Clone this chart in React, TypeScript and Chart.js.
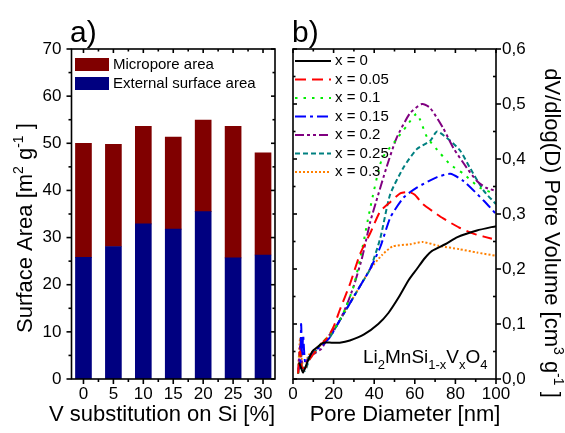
import { useEffect, useRef } from 'react';
import { Chart, registerables } from 'chart.js';
Chart.register(...registerables);

const FONT = '"Liberation Sans", Arial, sans-serif';

// ---------- Panel a data ----------
const substitution = [0, 5, 10, 15, 20, 25, 30];
const externalArea = [25.8, 28.1, 32.9, 31.8, 35.5, 25.7, 26.3];
const microporeArea = [24.2, 21.7, 20.7, 19.5, 19.4, 27.9, 21.7];
const yTicksA = [0, 10, 20, 30, 40, 50, 60, 70];
const xTicksA = [0, 5, 10, 15, 20, 25, 30];

// ---------- Panel b data ----------
const seriesLabels = ['x = 0', 'x = 0.05', 'x = 0.1', 'x = 0.15', 'x = 0.2', 'x = 0.25', 'x = 0.3'];
const d0 = [3, 4, 5, 7, 9.5, 12, 15, 19, 23, 28, 35, 42, 47, 52, 57, 61, 65, 68.5, 75, 81, 90.6, 100];
const v0 = [0.03, 0.02, 0.012, 0.03, 0.05, 0.058, 0.066, 0.066, 0.066, 0.07, 0.081, 0.1, 0.12, 0.148, 0.18, 0.2, 0.22, 0.233, 0.245, 0.258, 0.27, 0.278];
const d1 = [2.5, 3.5, 4.5, 6, 8, 10, 13, 17, 20, 23, 28, 33, 38, 43, 48, 53, 57, 60, 64, 70, 74, 82, 90, 98];
const v1 = [0.01, 0.05, 0.02, 0.02, 0.035, 0.045, 0.06, 0.075, 0.095, 0.125, 0.172, 0.227, 0.265, 0.305, 0.322, 0.338, 0.34, 0.335, 0.318, 0.302, 0.292, 0.275, 0.263, 0.255];
const d2 = [2.5, 3.5, 4.5, 6, 8, 10, 14, 18, 22, 26, 30, 34, 38, 43.8, 50.4, 56, 61, 66, 72.6, 77.5, 84, 92, 100];
const v2 = [0.01, 0.05, 0.02, 0.02, 0.04, 0.045, 0.065, 0.08, 0.1, 0.13, 0.17, 0.235, 0.31, 0.4, 0.433, 0.46, 0.482, 0.44, 0.41, 0.39, 0.373, 0.348, 0.336];
const d3 = [2.5, 3.5, 4, 4.5, 5, 6, 8, 10, 14, 18, 22, 26, 30, 34, 38, 43, 48, 54.5, 61, 71, 77.5, 84, 94, 100];
const v3 = [0.02, 0.02, 0.1, 0.04, 0.08, 0.03, 0.04, 0.05, 0.06, 0.075, 0.1, 0.125, 0.15, 0.175, 0.2, 0.24, 0.294, 0.33, 0.348, 0.367, 0.373, 0.36, 0.324, 0.3];
const d4 = [2.5, 3.5, 4.5, 6, 8, 10, 14, 18, 22, 26, 30, 34, 38, 41, 46, 51, 57.6, 63.5, 67.5, 74, 79, 85.6, 90.6, 95, 100];
const v4 = [0.01, 0.06, 0.03, 0.03, 0.04, 0.045, 0.055, 0.08, 0.1, 0.13, 0.17, 0.22, 0.285, 0.323, 0.384, 0.438, 0.483, 0.5, 0.493, 0.456, 0.42, 0.384, 0.36, 0.348, 0.342];
const d5 = [2.5, 3.5, 5, 6, 8, 10, 14, 18, 22, 26, 30, 34, 38, 43, 47.8, 54.5, 61, 67.6, 71, 77.5, 82.4, 87, 94, 100];
const v5 = [0.01, 0.03, 0.02, 0.015, 0.035, 0.045, 0.065, 0.075, 0.1, 0.125, 0.15, 0.175, 0.2, 0.256, 0.335, 0.385, 0.418, 0.433, 0.45, 0.433, 0.415, 0.385, 0.342, 0.318];
const d6 = [2.5, 3.5, 4.5, 6, 8, 10, 14, 18, 22, 26, 30, 34, 38, 44, 49, 57.6, 64, 72, 82, 90.6, 100];
const v6 = [0.01, 0.075, 0.03, 0.03, 0.045, 0.05, 0.065, 0.08, 0.1, 0.125, 0.15, 0.175, 0.2, 0.226, 0.241, 0.245, 0.249, 0.242, 0.236, 0.23, 0.224];
const xTicksB = [0, 20, 40, 60, 80, 100];
const yTicksB = [0, 0.1, 0.2, 0.3, 0.4, 0.5, 0.6];

const diameters = [d0, d1, d2, d3, d4, d5, d6];
const volumes = [v0, v1, v2, v3, v4, v5, v6];
const colors = ['#000000', '#ff0000', '#00ee00', '#0000ff', '#800080', '#008080', '#ff8000'];
const dashes: number[][] = [[], [11, 6], [2.5, 6], [11, 4, 3, 4], [9, 3, 3, 3, 3, 3], [5, 3], [2, 2]];

type Part = [string, number, number];
function drawRich(ctx: CanvasRenderingContext2D, parts: Part[], x: number, y: number, align: 'left' | 'center') {
  let total = 0;
  for (const [t, s] of parts) {
    ctx.font = `${s}px ${FONT}`;
    total += ctx.measureText(t).width;
  }
  let cx = align === 'center' ? x - total / 2 : x;
  ctx.textAlign = 'left';
  ctx.textBaseline = 'alphabetic';
  for (const [t, s, dy] of parts) {
    ctx.font = `${s}px ${FONT}`;
    ctx.fillText(t, cx, y + dy);
    cx += ctx.measureText(t).width;
  }
}

function hTicks(ctx: CanvasRenderingContext2D, scale: any, vals: number[], y: number, len: number) {
  for (const v of vals) {
    const px = scale.getPixelForValue(v);
    ctx.beginPath();
    ctx.moveTo(px, y);
    ctx.lineTo(px, y + len);
    ctx.stroke();
  }
}
function vTicks(ctx: CanvasRenderingContext2D, scale: any, vals: number[], x: number, len: number) {
  for (const v of vals) {
    const py = scale.getPixelForValue(v);
    ctx.beginPath();
    ctx.moveTo(x, py);
    ctx.lineTo(x + len, py);
    ctx.stroke();
  }
}

const range = (a: number, b: number, s: number) => {
  const r: number[] = [];
  for (let v = a; v <= b + 1e-9; v += s) r.push(+v.toFixed(4));
  return r;
};

export default function App() {
  const refA = useRef<HTMLCanvasElement>(null);
  const refB = useRef<HTMLCanvasElement>(null);

  useEffect(() => {
    const tickFont = { family: FONT, size: 17 };

    const panelAPlugin = {
      id: 'panelA',
      afterDraw(chart: any) {
        const { ctx, chartArea: ca, scales } = chart;
        const xs = scales.x, ys = scales.y;
        ctx.save();
        ctx.strokeStyle = '#000';
        ctx.fillStyle = '#000';
        ctx.lineWidth = 1.6;
        ctx.setLineDash([]);
        const majX = xTicksA, minX = range(2.5, 27.5, 5);
        const majY = yTicksA, minY = range(5, 65, 10);
        hTicks(ctx, xs, majX, ca.bottom, 5);
        hTicks(ctx, xs, minX, ca.bottom, 3);
        hTicks(ctx, xs, majX, ca.top, 4);
        hTicks(ctx, xs, minX, ca.top, 2.5);
        vTicks(ctx, ys, majY, ca.left, -5);
        vTicks(ctx, ys, minY, ca.left, -3);
        vTicks(ctx, ys, majY, ca.right, -4);
        vTicks(ctx, ys, minY, ca.right, -2.5);
        ctx.strokeRect(ca.left, ca.top, ca.right - ca.left, ca.bottom - ca.top);

        // legend
        const leg: [string, string][] = [['Micropore area', '#800000'], ['External surface area', '#000080']];
        leg.forEach(([t, c], i) => {
          const y = 58 + i * 19;
          ctx.fillStyle = c;
          ctx.fillRect(75, y, 34, 13);
          ctx.fillStyle = '#000';
          ctx.font = `15px ${FONT}`;
          ctx.textAlign = 'left';
          ctx.textBaseline = 'middle';
          ctx.fillText(t, 113, y + 7);
        });

        // panel label
        ctx.font = `30px ${FONT}`;
        ctx.textAlign = 'left';
        ctx.textBaseline = 'alphabetic';
        ctx.fillText('a)', 70, 42);

        // x title
        drawRich(ctx, [['V substitution on Si [%]', 22, 0]], 162, 421, 'center');

        // y title
        ctx.save();
        ctx.translate(32, 228);
        ctx.rotate(-Math.PI / 2);
        drawRich(ctx, [['Surface Area [m', 22, 0], ['2', 14, -9], [' g', 22, 0], ['-1', 14, -9], [' ]', 22, 0]], 0, 0, 'center');
        ctx.restore();
        ctx.restore();
      },
    };

    const panelBPlugin = {
      id: 'panelB',
      afterDraw(chart: any) {
        const { ctx, chartArea: ca, scales } = chart;
        const xs = scales.x, ys = scales.y;
        ctx.save();
        ctx.strokeStyle = '#000';
        ctx.fillStyle = '#000';
        ctx.lineWidth = 1.6;
        ctx.setLineDash([]);
        const majX = xTicksB, minX = range(10, 90, 20);
        const majY = yTicksB, minY = range(0.05, 0.55, 0.1);
        hTicks(ctx, xs, majX, ca.bottom, 5);
        hTicks(ctx, xs, minX, ca.bottom, 3);
        hTicks(ctx, xs, majX, ca.top, 4);
        hTicks(ctx, xs, minX, ca.top, 2.5);
        vTicks(ctx, ys, majY, ca.right, 5);
        vTicks(ctx, ys, minY, ca.right, -3);
        vTicks(ctx, ys, majY, ca.left, 4);
        vTicks(ctx, ys, minY, ca.left, 2.5);
        ctx.strokeRect(ca.left, ca.top, ca.right - ca.left, ca.bottom - ca.top);

        // legend
        seriesLabels.forEach((t, i) => {
          const y = 61 + i * 18.5;
          ctx.save();
          ctx.strokeStyle = colors[i];
          ctx.lineWidth = 2;
          ctx.setLineDash(dashes[i]);
          ctx.beginPath();
          ctx.moveTo(15, y);
          ctx.lineTo(51, y);
          ctx.stroke();
          ctx.restore();
          ctx.fillStyle = '#000';
          ctx.font = `15px ${FONT}`;
          ctx.textAlign = 'left';
          ctx.textBaseline = 'middle';
          ctx.fillText(t, 55, y);
        });

        // compound annotation
        ctx.fillStyle = '#000';
        drawRich(ctx, [['Li', 19, 0], ['2', 13, 6], ['MnSi', 19, 0], ['1-x', 13, 6], ['V', 19, 0], ['x', 13, 6], ['O', 19, 0], ['4', 13, 6]], 83, 363, 'left');

        // panel label
        ctx.font = `30px ${FONT}`;
        ctx.textAlign = 'left';
        ctx.textBaseline = 'alphabetic';
        ctx.fillText('b)', 12, 42);

        // x title
        drawRich(ctx, [['Pore Diameter [nm]', 22, 0]], 125, 421, 'center');

        // right y title
        ctx.save();
        ctx.translate(265, 233);
        ctx.rotate(Math.PI / 2);
        drawRich(ctx, [['dV/dlog(D) Pore Volume [cm', 22, 0], ['3', 14, -9], [' g', 22, 0], ['-1', 14, -9], [' ]', 22, 0]], 0, 0, 'center');
        ctx.restore();
        ctx.restore();
      },
    };

    const chartA = new Chart(refA.current!, {
      type: 'bar',
      data: {
        datasets: [
          {
            label: 'External surface area',
            data: substitution.map((x, i) => ({ x, y: externalArea[i] })),
            backgroundColor: '#000080',
            borderWidth: 0,
            barThickness: 16,
          },
          {
            label: 'Micropore area',
            data: substitution.map((x, i) => ({ x, y: microporeArea[i] })),
            backgroundColor: '#800000',
            borderWidth: 0,
            barThickness: 16,
          },
        ],
      } as any,
      options: {
        responsive: false,
        animation: false,
        devicePixelRatio: 1,
        layout: { padding: { left: 0, right: 5, top: 49, bottom: 0 } },
        plugins: { legend: { display: false }, tooltip: { enabled: false } },
        scales: {
          x: {
            type: 'linear',
            stacked: true,
            offset: false,
            min: -2,
            max: 32,
            grid: { display: false, drawTicks: false, offset: false },
            border: { display: false },
            afterBuildTicks: (s: any) => { s.ticks = xTicksA.map((v) => ({ value: v })); },
            afterFit: (s: any) => { s.height = 54; },
            ticks: { font: tickFont, color: '#000', padding: 5, maxRotation: 0, autoSkip: false },
          },
          y: {
            type: 'linear',
            stacked: true,
            min: 0,
            max: 70,
            grid: { display: false, drawTicks: false },
            border: { display: false },
            afterBuildTicks: (s: any) => { s.ticks = yTicksA.map((v) => ({ value: v })); },
            afterFit: (s: any) => { s.width = 71.5; },
            ticks: { font: tickFont, color: '#000', padding: 10 },
          },
        },
      } as any,
      plugins: [panelAPlugin],
    });

    const chartB = new Chart(refB.current!, {
      type: 'line',
      data: {
        datasets: seriesLabels.map((label, i) => ({
          label,
          data: diameters[i].map((x, j) => ({ x, y: volumes[i][j] })),
          borderColor: colors[i],
          borderWidth: 2,
          borderDash: dashes[i],
          pointRadius: 0,
          tension: 0.2,
          fill: false,
        })),
      } as any,
      options: {
        responsive: false,
        animation: false,
        devicePixelRatio: 1,
        layout: { padding: { left: 13, right: 0, top: 49, bottom: 0 } },
        plugins: { legend: { display: false }, tooltip: { enabled: false } },
        scales: {
          x: {
            type: 'linear',
            min: 0,
            max: 100,
            grid: { display: false, drawTicks: false },
            border: { display: false },
            afterBuildTicks: (s: any) => { s.ticks = xTicksB.map((v) => ({ value: v })); },
            afterFit: (s: any) => { s.height = 54; },
            ticks: { font: tickFont, color: '#000', padding: 5, maxRotation: 0, autoSkip: false },
          },
          y: {
            type: 'linear',
            position: 'right',
            min: 0,
            max: 0.6,
            grid: { display: false, drawTicks: false },
            border: { display: false },
            afterBuildTicks: (s: any) => { s.ticks = yTicksB.map((v) => ({ value: v })); },
            afterFit: (s: any) => { s.width = 69; },
            ticks: {
              font: tickFont,
              color: '#000',
              padding: 6,
              callback: (v: any) => Number(v).toFixed(1).replace('.', ','),
            },
          },
        },
      } as any,
      plugins: [panelBPlugin],
    });

    return () => {
      chartA.destroy();
      chartB.destroy();
    };
  }, []);

  return (
    <div style={{ position: 'fixed', left: 0, top: 0, width: 565, height: 433, background: '#fff' }}>
      <canvas ref={refA} width={280} height={433} style={{ position: 'absolute', left: 0, top: 0, width: 280, height: 433 }} />
      <canvas ref={refB} width={285} height={433} style={{ position: 'absolute', left: 280, top: 0, width: 285, height: 433 }} />
    </div>
  );
}
